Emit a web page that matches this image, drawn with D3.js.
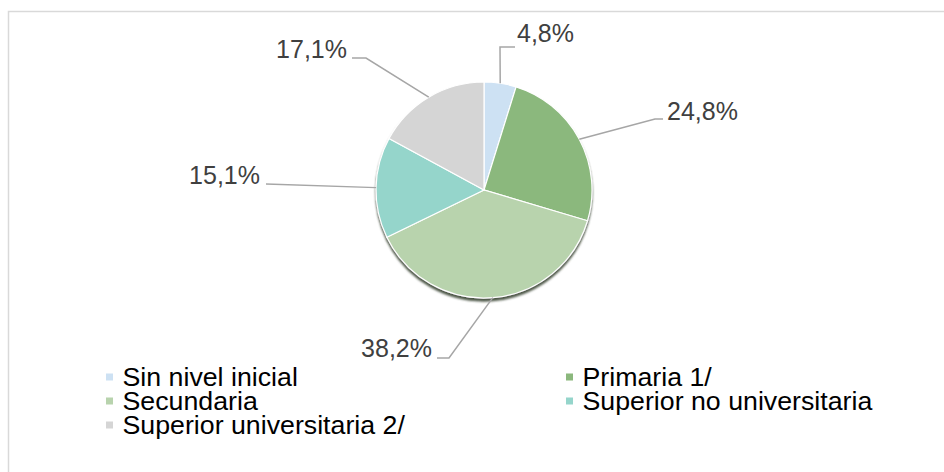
<!DOCTYPE html>
<html>
<head>
<meta charset="utf-8">
<script src="https://cdn.jsdelivr.net/npm/d3@7"></script>
<style>
  body { margin: 0; background: #fff; }
  svg { display: block; font-family: "Liberation Sans", Arial, sans-serif; }
</style>
</head>
<body>
<svg width="944" height="472"></svg>
<script>
// niveles educativos y su participacion (%)
var categories = ["Sin nivel inicial", "Primaria 1/", "Secundaria", "Superior no universitaria", "Superior universitaria 2/"];
var values = [4.8, 24.8, 38.2, 15.1, 17.1];
var labels = ["4,8%", "24,8%", "38,2%", "15,1%", "17,1%"];
var colors = ["#cde1f3", "#8bb87d", "#b8d3ad", "#95d5cb", "#d5d5d5"];

var svg = d3.select("svg"),
    cx = 484, cy = 190, radius = 108;

// marco del grafico
svg.append("rect")
    .attr("x", 8.5).attr("y", 11.5)
    .attr("width", 1000).attr("height", 1000)
    .attr("fill", "none")
    .attr("stroke", "#d9d9d9")
    .attr("stroke-width", 1.5);

var defs = svg.append("defs");
var shadow = defs.append("filter").attr("id", "sombra")
    .attr("x", "-20%").attr("y", "-20%").attr("width", "140%").attr("height", "140%");
shadow.append("feDropShadow")
    .attr("dx", 0).attr("dy", 3)
    .attr("stdDeviation", 1.2)
    .attr("flood-color", "#3a4734")
    .attr("flood-opacity", 0.9);

var data = categories.map(function(c, i) {
  return { name: c, value: values[i], label: labels[i], color: colors[i] };
});

var pie = d3.pie()
    .sort(null)
    .value(function(d) { return d.value; });

var arc = d3.arc().innerRadius(0).outerRadius(radius);

var arcs = pie(data);

var g = svg.append("g")
    .attr("transform", "translate(" + cx + "," + cy + ")");

g.append("g")
    .attr("filter", "url(#sombra)")
  .selectAll("path")
  .data(arcs)
  .enter().append("path")
    .attr("d", arc)
    .attr("fill", function(d) { return d.data.color; })
    .attr("stroke", "#fff")
    .attr("stroke-width", 1.2);

// posicion de etiquetas (estilo Excel): ancla del texto, codo de la linea guia
var labelLayout = [
  { tx: 517, ty: 42, anchor: "start", pts: [[500, 47], [515, 47]] },
  { tx: 667, ty: 120, anchor: "start", pts: [[655, 119], [663, 119]] },
  { tx: 432, ty: 357, anchor: "end", pts: [[449, 358], [437, 358]] },
  { tx: 260, ty: 184, anchor: "end", pts: [[266, 184]] },
  { tx: 347, ty: 58, anchor: "end", pts: [[366, 58], [352, 58]] }
];

var line = d3.line();

arcs.forEach(function(d, i) {
  var a = (d.startAngle + d.endAngle) / 2;
  var edge = [cx + radius * Math.sin(a), cy - radius * Math.cos(a)];
  var L = labelLayout[i];
  svg.append("path")
      .attr("d", line([edge].concat(L.pts)))
      .attr("fill", "none")
      .attr("stroke", "#a6a6a6")
      .attr("stroke-width", 1.5);
  svg.append("text")
      .attr("x", L.tx).attr("y", L.ty)
      .attr("text-anchor", L.anchor)
      .attr("font-size", 25)
      .attr("fill", "#404040")
      .text(d.data.label);
});

// leyenda en dos columnas
var legendX = [106, 566], legendRow0 = 385.5, rowH = 24;
var legend = svg.append("g").selectAll("g")
  .data(data)
  .enter().append("g")
    .attr("transform", function(d, i) {
      return "translate(" + legendX[i % 2] + "," + (legendRow0 + Math.floor(i / 2) * rowH) + ")";
    });

legend.append("rect")
    .attr("x", 0).attr("y", -12)
    .attr("width", 7).attr("height", 7)
    .attr("fill", function(d) { return d.color; });

legend.append("text")
    .attr("transform", "translate(16.5,0) scale(1.07,1)")
    .attr("font-size", 25)
    .attr("fill", "#000")
    .text(function(d) { return d.name; });
</script>
</body>
</html>
